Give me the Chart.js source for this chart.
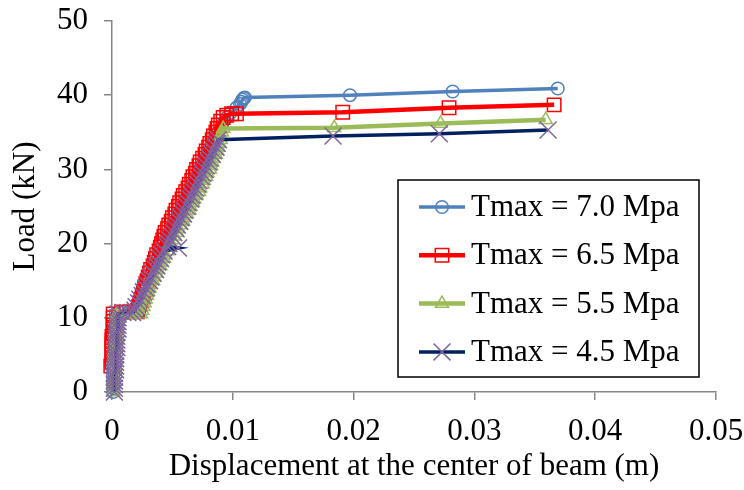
<!DOCTYPE html>
<html>
<head>
<meta charset="utf-8">
<title>Load vs displacement</title>
<script src="https://cdn.jsdelivr.net/npm/chart.js@4.4.0/dist/chart.umd.min.js"></script>
<style>
    body { margin: 0; background: #fff; }
    #wrap { width: 744px; height: 490px; position: relative; }
</style>
</head>
<body>
<div id="wrap"><canvas id="loadChart"></canvas></div>
<script>
// Tmax = 7.0 Mpa
const disp70 = [0.0001, 0.0001, 0.0001, 0.0001, 0.0001, 0.0001, 0.0001, 0.0001, 0.0001, 0.0001, 0.0001,
    0.0002, 0.0002, 0.0002, 0.0002, 0.0002, 0.0002, 0.0002, 0.0003, 0.0003, 0.0003, 0.0003,
    0.0008, 0.0013, 0.0017,
    0.0019, 0.0022, 0.0025, 0.0028, 0.0030, 0.0033, 0.0036, 0.0038, 0.0041, 0.0043, 0.0046, 0.0049, 0.0052, 0.0055,
    0.0058, 0.0061, 0.0064, 0.0067, 0.0070, 0.0073, 0.0076, 0.0079, 0.0082, 0.0085, 0.0088, 0.0091, 0.0095,
    0.0098, 0.0103, 0.0106, 0.0107, 0.0108, 0.0109, 0.0110,
    0.0197, 0.0282, 0.0369];
const load70 = [0, 0.5, 1, 1.5, 2, 2.5, 3, 3.5, 4, 4.5, 5,
    5.5, 6, 6.5, 7, 7.5, 8, 8.5, 9, 9.5, 10, 10.5,
    10.7, 10.7, 10.8,
    11, 12, 13, 14, 15, 16, 17, 18, 19, 20, 21, 22, 23, 24,
    25, 26, 27, 28, 29, 30, 31, 32, 33, 34, 35, 36, 37,
    37.6, 38.3, 38.8, 39.1, 39.4, 39.6, 39.7,
    40.0, 40.5, 40.9];

// Tmax = 6.5 Mpa
const disp65 = [-0.0001, -0.0001, -0.0001, -0.0001, -0.0001, -0.0001, -0.0001, -0.0001,
    0.0000, 0.0000, 0.0000, 0.0000, 0.0000, 0.0000, 0.0000, 0.0000,
    0.0001, 0.0001, 0.0001, 0.0001, 0.0001, 0.0001,
    0.0008, 0.0015, 0.0021,
    0.0021, 0.0022, 0.0023, 0.0024, 0.0025, 0.0026, 0.0027, 0.0028, 0.0029, 0.0030, 0.0031, 0.0032,
    0.0034, 0.0035, 0.0036, 0.0037, 0.0039, 0.0040, 0.0041, 0.0042, 0.0043, 0.0044, 0.0046, 0.0047,
    0.0049, 0.0050, 0.0052, 0.0053, 0.0055, 0.0056, 0.0058, 0.0059, 0.0061, 0.0063, 0.0064, 0.0066,
    0.0067, 0.0069, 0.0070, 0.0072, 0.0073, 0.0075, 0.0077, 0.0078, 0.0080, 0.0081, 0.0083, 0.0084,
    0.0086, 0.0087, 0.0088, 0.0090,
    0.0092, 0.0095, 0.0099, 0.0103,
    0.0191, 0.0279, 0.0366];
const load65 = [0, 0.5, 1, 1.5, 2, 2.5, 3, 3.5,
    4, 4.5, 5, 5.5, 6, 6.5, 7, 7.5,
    8, 8.5, 9, 9.5, 10, 10.5,
    10.8, 10.8, 10.8,
    11, 11.5, 12, 12.5, 13, 13.5, 14, 14.5, 15, 15.5, 16, 16.5,
    17, 17.5, 18, 18.5, 19, 19.5, 20, 20.5, 21, 21.5, 22, 22.5,
    23, 23.5, 24, 24.5, 25, 25.5, 26, 26.5, 27, 27.5, 28, 28.5,
    29, 29.5, 30, 30.5, 31, 31.5, 32, 32.5, 33, 33.5, 34, 34.5,
    35, 35.5, 36, 36.5,
    37, 37.3, 37.5, 37.5,
    37.7, 38.3, 38.7];

// Tmax = 5.5 Mpa
const disp55 = [0.0001, 0.0001, 0.0001, 0.0001, 0.0001, 0.0001,
    0.0002, 0.0002, 0.0002, 0.0002, 0.0002, 0.0002,
    0.0003, 0.0003, 0.0003, 0.0003, 0.0003,
    0.0004, 0.0004, 0.0004, 0.0004, 0.0004,
    0.0010, 0.0018, 0.0024,
    0.0025, 0.0026, 0.0027, 0.0028, 0.0029, 0.0030, 0.0031, 0.0032, 0.0034, 0.0035, 0.0037, 0.0038,
    0.0040, 0.0041, 0.0043, 0.0044, 0.0046, 0.0047, 0.0049, 0.0050, 0.0052, 0.0054, 0.0055, 0.0057,
    0.0059, 0.0060, 0.0062, 0.0064, 0.0065, 0.0067, 0.0068, 0.0070, 0.0072, 0.0073, 0.0075, 0.0076,
    0.0078, 0.0079, 0.0081, 0.0082, 0.0083, 0.0084, 0.0086, 0.0087, 0.0088, 0.0089, 0.0090, 0.0090,
    0.0091, 0.0092,
    0.0184, 0.0272, 0.0359];
const load55 = [0, 0.5, 1, 1.5, 2, 2.5,
    3, 3.5, 4, 4.5, 5, 5.5,
    6, 6.5, 7, 7.5, 8,
    8.5, 9, 9.5, 10, 10.5,
    10.5, 10.4, 10.5,
    11, 11.5, 12, 12.5, 13, 13.5, 14, 14.5, 15, 15.5, 16, 16.5,
    17, 17.5, 18, 18.5, 19, 19.5, 20, 20.5, 21, 21.5, 22, 22.5,
    23, 23.5, 24, 24.5, 25, 25.5, 26, 26.5, 27, 27.5, 28, 28.5,
    29, 29.5, 30, 30.5, 31, 31.5, 32, 32.5, 33, 33.5, 34, 34.5,
    35, 35.5,
    35.6, 36.2, 36.7];

// Tmax = 4.5 Mpa
const disp45 = [0.0002, 0.0002, 0.0002, 0.0002, 0.0002, 0.0002,
    0.0003, 0.0003, 0.0003, 0.0003, 0.0003, 0.0003,
    0.0004, 0.0004, 0.0004, 0.0004, 0.0004,
    0.0005, 0.0005, 0.0005, 0.0005, 0.0005,
    0.0009, 0.0013, 0.0017,
    0.0019, 0.0020, 0.0022, 0.0023, 0.0025, 0.0026, 0.0028, 0.0029, 0.0031, 0.0032, 0.0034, 0.0036,
    0.0037, 0.0038, 0.0040, 0.0041, 0.0043, 0.0055, 0.0046, 0.0047, 0.0048, 0.0050, 0.0051, 0.0053,
    0.0054, 0.0056, 0.0057, 0.0059, 0.0060, 0.0062, 0.0063, 0.0065, 0.0066, 0.0068, 0.0069, 0.0071,
    0.0072, 0.0074, 0.0075, 0.0077, 0.0078, 0.0080, 0.0081, 0.0083, 0.0084, 0.0086, 0.0087, 0.0088,
    0.0183, 0.0271, 0.0361];
const load45 = [0, 0.5, 1, 1.5, 2, 2.5,
    3, 3.5, 4, 4.5, 5, 5.5,
    6, 6.5, 7, 7.5, 8,
    8.5, 9, 9.5, 10, 10.5,
    10.7, 10.7, 10.7,
    11, 11.5, 12, 12.5, 13, 13.5, 14, 14.5, 15, 15.5, 16, 16.5,
    17, 17.5, 18, 18.5, 19, 19.4, 19.6, 20, 20.5, 21, 21.5, 22,
    22.5, 23, 23.5, 24, 24.5, 25, 25.5, 26, 26.5, 27, 27.5, 28,
    28.5, 29, 29.5, 30, 30.5, 31, 31.5, 32, 32.5, 33, 33.5, 34,
    34.5, 34.8, 35.3];

const seriesLabels = ['Tmax = 7.0 Mpa', 'Tmax = 6.5 Mpa', 'Tmax = 5.5 Mpa', 'Tmax = 4.5 Mpa'];
const xTicks = [0, 0.01, 0.02, 0.03, 0.04, 0.05];
const yTicks = [0, 10, 20, 30, 40, 50];

const FONT = 'Liberation Serif, Times New Roman, serif';
const FONT_SIZE = 31;

function toPoints(xs, ys) {
    return xs.map((x, i) => ({ x: x, y: ys[i] }));
}

// legend drawn as a framed box with line + marker samples
const legendBox = {
    id: 'legendBox',
    afterDraw(chart) {
        const ctx = chart.ctx;
        const x0 = 398, y0 = 180, w = 301, h = 197;
        ctx.save();
        ctx.fillStyle = '#ffffff';
        ctx.fillRect(x0, y0, w, h);
        ctx.strokeStyle = '#000000';
        ctx.lineWidth = 1.5;
        ctx.strokeRect(x0, y0, w, h);
        chart.data.datasets.forEach((ds, i) => {
            const cy = y0 + 27 + i * 48.3;
            ctx.strokeStyle = ds.borderColor;
            ctx.lineWidth = ds.borderWidth;
            ctx.beginPath();
            ctx.moveTo(x0 + 21, cy);
            ctx.lineTo(x0 + 67, cy);
            ctx.stroke();
            ctx.strokeStyle = ds.pointBorderColor;
            ctx.fillStyle = 'rgba(0,0,0,0)';
            ctx.lineWidth = ds.pointBorderWidth;
            Chart.helpers.drawPoint(ctx, {
                pointStyle: ds.pointStyle,
                radius: ds.pointRadius,
                borderWidth: ds.pointBorderWidth,
                rotation: 0
            }, x0 + 44, cy);
            ctx.fillStyle = '#000000';
            ctx.font = FONT_SIZE + 'px ' + FONT;
            ctx.textBaseline = 'middle';
            ctx.textAlign = 'left';
            ctx.fillText(ds.label, x0 + 73, cy + 1);
        });
        ctx.restore();
    }
};

function makeDataset(label, xs, ys, line, marker, style, radius, width, order) {
    return {
        label: label,
        data: toPoints(xs, ys),
        showLine: true,
        borderColor: line,
        borderWidth: width,
        pointStyle: style,
        pointRadius: radius,
        pointHoverRadius: radius,
        pointBorderColor: marker,
        pointBackgroundColor: 'rgba(0,0,0,0)',
        pointBorderWidth: 1.5,
        tension: 0,
        clip: false,
        order: order
    };
}

const ctx = document.getElementById('loadChart').getContext('2d');
new Chart(ctx, {
    type: 'scatter',
    data: {
        datasets: [
            makeDataset(seriesLabels[0], disp70, load70, '#4F81BD', '#4F81BD', 'circle', 6.3, 3.5, 4),
            makeDataset(seriesLabels[1], disp65, load65, '#FF0000', '#FF0000', 'rect', 9.5, 4.5, 3),
            makeDataset(seriesLabels[2], disp55, load55, '#9BBB59', '#9BBB59', 'triangle', 7.5, 4.5, 2),
            makeDataset(seriesLabels[3], disp45, load45, '#002060', '#8064A2', 'crossRot', 12, 3.5, 1)
        ]
    },
    options: {
        responsive: true,
        maintainAspectRatio: false,
        animation: false,
        layout: { padding: { left: 4, right: 28, top: 21, bottom: 0 } },
        plugins: {
            legend: { display: false },
            tooltip: { enabled: false }
        },
        scales: {
            x: {
                type: 'linear',
                min: xTicks[0],
                max: xTicks[xTicks.length - 1],
                afterBuildTicks: (scale) => { scale.ticks = xTicks.map(v => ({ value: v })); },
                afterFit: (scale) => {
                    scale.height = 98;
                    scale.paddingLeft = 0;
                    scale.paddingRight = 0;
                },
                ticks: {
                    color: '#000',
                    font: { family: FONT, size: FONT_SIZE },
                    padding: 13,
                    maxRotation: 0,
                    callback: (v) => (v === 0 ? '0' : v.toFixed(2))
                },
                grid: { drawOnChartArea: false, drawTicks: true, tickLength: 8, color: '#868686', lineWidth: 1.5 },
                border: { color: '#868686', width: 1.5 },
                title: {
                    display: true,
                    text: 'Displacement at the center of beam (m)',
                    color: '#000',
                    font: { family: FONT, size: FONT_SIZE },
                    padding: { top: 0, bottom: 5 }
                }
            },
            y: {
                min: yTicks[0],
                max: yTicks[yTicks.length - 1],
                afterBuildTicks: (scale) => { scale.ticks = yTicks.map(v => ({ value: v })); },
                afterFit: (scale) => {
                    scale.width = 108;
                    scale.paddingTop = 0;
                    scale.paddingBottom = 0;
                },
                ticks: {
                    color: '#000',
                    font: { family: FONT, size: FONT_SIZE },
                    padding: 16
                },
                grid: { drawOnChartArea: false, drawTicks: true, tickLength: 8, color: '#868686', lineWidth: 1.5 },
                border: { color: '#868686', width: 1.5 },
                title: {
                    display: true,
                    text: 'Load (kN)',
                    color: '#000',
                    font: { family: FONT, size: FONT_SIZE },
                    padding: { top: 3, bottom: 0 }
                }
            }
        }
    },
    plugins: [legendBox]
});
</script>
</body>
</html>
